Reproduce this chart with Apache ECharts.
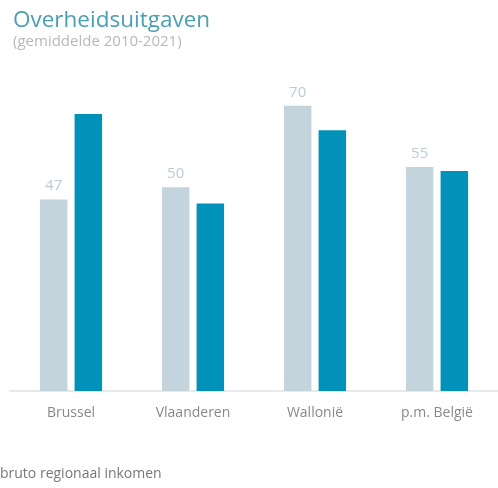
<!DOCTYPE html>
<html>
<head>
  <meta charset="utf-8">
  <script src="https://cdn.jsdelivr.net/npm/echarts@6/dist/echarts.min.js"></script>
  <style>
    html, body { margin: 0; padding: 0; background: #fff; }
    #chart { width: 498px; height: 488px; }
  </style>
</head>
<body>
  <div id="chart"></div>
  <script>
    const regions = ['Brussel', 'Vlaanderen', 'Wallonië', 'p.m. België'];
    const uitgaven = [47, 50, 70, 55];
    const inkomen = [68, 46, 64, 54];

    const font = '"Open Sans", "Noto Sans", sans-serif';
    let myChart = echarts.init(document.getElementById('chart'));
    let option = {
      animation: false,
      textStyle: { fontFamily: font },
      title: [
        {
          text: 'Overheidsuitgaven',
          subtext: '(gemiddelde 2010-2021)',
          left: 8,
          top: 4,
          itemGap: 2,
          textStyle: { color: '#4a9fb3', fontSize: 22.5, fontWeight: 'normal', fontFamily: font },
          subtextStyle: { color: '#b8b8b8', fontSize: 15, fontFamily: font }
        },
        {
          text: 'bruto regionaal inkomen',
          left: -5,
          top: 462,
          textStyle: { color: '#777', fontSize: 14, fontWeight: 'normal', fontFamily: font }
        }
      ],
      grid: { left: 10, right: 0, top: 65, bottom: 97 },
      xAxis: {
        type: 'category',
        data: regions,
        axisLine: { lineStyle: { color: '#dfe4e7', width: 1.5 } },
        axisTick: { show: false },
        axisLabel: { color: '#888', fontSize: 14, margin: 15, fontFamily: font }
      },
      yAxis: {
        type: 'value',
        min: 0,
        max: 80,
        show: false,
        splitLine: { show: false }
      },
      series: [
        {
          type: 'bar',
          data: uitgaven,
          barWidth: 27.5,
          barGap: '26%',
          itemStyle: { color: '#c4d4dc' },
          label: {
            show: true,
            position: 'top',
            distance: 6,
            color: '#bcccd6',
            fontSize: 15,
            fontFamily: font
          }
        },
        {
          type: 'bar',
          data: inkomen,
          barWidth: 27.5,
          itemStyle: { color: '#0092b8' }
        }
      ]
    };
    myChart.setOption(option);
  </script>
</body>
</html>
